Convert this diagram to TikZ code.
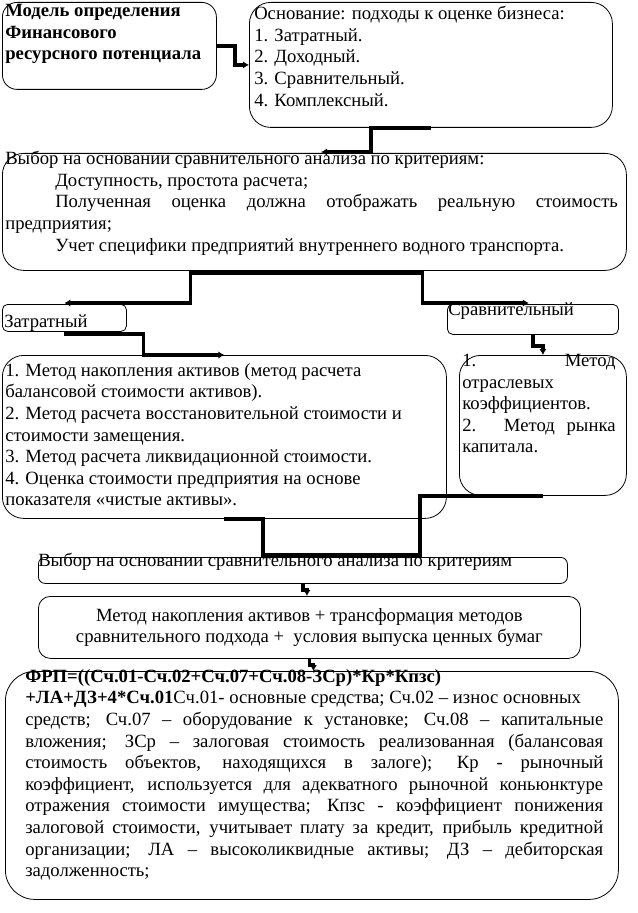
\documentclass[tikz,border=0pt]{standalone}
\usepackage{fontspec}
\setmainfont{Liberation Serif}
\usetikzlibrary{positioning}
\usetikzlibrary{arrows.meta}
\newcommand{\jline}[2]{\makebox[#1][s]{#2}}
\tikzset{
  box_round/.style={draw, color=black, line width=0.6pt, rounded corners=#1, inner sep=0, anchor=north west},
  box_size/.style 2 args={minimum width=#1*0.75pt, minimum height=#2*0.75pt},
  txt/.style={anchor=north west, inner sep=0, align=left, font=\fontsize{14}{16.2}\selectfont},
  arrow_conn/.style={-{Latex[length=4.5pt, width=5.5pt]}, line width=2.6pt, color=black},
  line_conn/.style={line width=2.6pt, color=black}}

\begin{document}
\begin{tikzpicture}[x=0.75pt, y=-0.75pt]
\useasboundingbox (0,0) rectangle (638,913);

%% boxes
\node[box_round=11pt, box_size={214}{87}]  at (2,2)     (b_model)  {};
\node[box_round=16pt, box_size={363}{125}] at (249,2)   (b_osn)    {};
\node[box_round=16pt, box_size={624}{117}] at (2,153)   (b_vybor)  {};
\node[box_round=4pt,  box_size={124}{27}]  at (2,304)   (b_zatr)   {};
\node[box_round=4pt,  box_size={171}{30}]  at (447,304) (b_srav)   {};
\node[box_round=16pt, box_size={444}{163}] at (2,355)   (b_metody) {};
\node[box_round=16pt, box_size={167}{140}] at (459,355) (b_koef)   {};
\node[box_round=5pt,  box_size={529}{26}]  at (38,557)  (b_vybor2) {};
\node[box_round=9pt,  box_size={542}{62}]  at (38,596)  (b_itog)   {};
\node[box_round=22pt, box_size={613}{228}] at (5,671)   (b_frp)    {};

%% text
\node[txt, font=\fontsize{14}{16.2}\selectfont\bfseries] at (5,4) (t_model)
  {Модель определения\\ Финансового\\ ресурсного потенциала};
\node[txt] at (254,6) (t_osn)
  {Основание: подходы к оценке бизнеса:\\ 1. Затратный.\\ 2. Доходный.\\ 3. Сравнительный.\\ 4. Комплексный.};
\node[txt] at (5,151) (t_vybor)
  {Выбор на основании сравнительного анализа по критериям:\\
   \hspace*{37.5pt}Доступность, простота расчета;\\
   \hspace*{37.5pt}\jline{422pt}{Полученная оценка должна отображать реальную стоимость}\\
   предприятия;\\
   \hspace*{37.5pt}Учет специфики предприятий внутреннего водного транспорта.};
\node[txt] at (4,314) (t_zatr) {Затратный};
\node[txt] at (448,302) (t_srav) {Сравнительный};
\node[txt] at (5,363) (t_metody)
  {1. Метод накопления активов (метод расчета\\
   балансовой стоимости активов).\\
   2. Метод расчета восстановительной стоимости и\\
   стоимости замещения.\\
   3. Метод расчета ликвидационной стоимости.\\
   4. Оценка стоимости предприятия на основе\\
   показателя «чистые активы».};
\node[txt] at (462,354) (t_koef)
  {\jline{115pt}{1. Метод}\\ отраслевых\\ коэффициентов.\\ \jline{115pt}{2. Метод рынка}\\ капитала.};
\node[txt] at (38,553) (t_vybor2) {Выбор на основании сравнительного анализа по критериям};
\node[txt, anchor=center, align=center] at (b_itog.center) (t_itog)
  {Метод накопления активов + трансформация методов\\ сравнительного подхода +\ \ условия выпуска ценных бумаг};
\node[txt] at (25,669) (t_frp)
  {\textbf{ФРП=((Сч.01-Сч.02+Сч.07+Сч.08-ЗСр)*Кр*Кпзс)}\\
   \textbf{+ЛА+ДЗ+4*Сч.01}Сч.01- основные средства; Сч.02 – износ основных\\
   \jline{433.5pt}{средств; Сч.07 – оборудование к установке; Сч.08 – капитальные}\\
   \jline{433.5pt}{вложения; ЗСр – залоговая стоимость реализованная (балансовая}\\
   \jline{433.5pt}{стоимость объектов, находящихся в залоге); Кр - рыночный}\\
   \jline{433.5pt}{коэффициент, используется для адекватного рыночной коньюнктуре}\\
   \jline{433.5pt}{отражения стоимости имущества; Кпзс - коэффициент понижения}\\
   \jline{433.5pt}{залоговой стоимости, учитывает плату за кредит, прибыль кредитной}\\
   \jline{433.5pt}{организации; ЛА – высоколиквидные активы; ДЗ – дебиторская}\\
   задолженность;};

%% arrows
\coordinate (c_ml) at (263,555);
\coordinate (c_mr) at (420,555);

\draw[arrow_conn] (b_model.east) -- ++(18,0) |- (b_osn.west);
\draw[arrow_conn] (b_osn.south) -- ++(-60,0) |- (321,152);

\draw[arrow_conn] ([yshift=-1.5pt]b_vybor.south) -- ++(-124,0) |- ([yshift=0.75pt]b_zatr.north);
\draw[arrow_conn] ([yshift=-1.5pt]b_vybor.south) -- ++(108,0) |- ([yshift=0.75pt,xshift=-3pt]b_srav.north);

\draw[arrow_conn] ([yshift=-1.5pt]b_zatr.south) -- ++(79,0) |- (b_metody.north);
\draw[arrow_conn] (b_srav.south) -- ++(0,11) -| (b_koef.north);

\draw[line_conn] (b_metody.south) -| (c_ml) -- (c_mr) |- (b_koef.south);

\draw[arrow_conn] (b_vybor2.south) -- ++(0,6) -| ([xshift=3pt]b_vybor2.south |- b_itog.north);
\draw[arrow_conn] (b_itog.south) -- ++(0,6) -| ([xshift=3pt]b_itog.south |- b_frp.north);

\end{tikzpicture}
\end{document}
